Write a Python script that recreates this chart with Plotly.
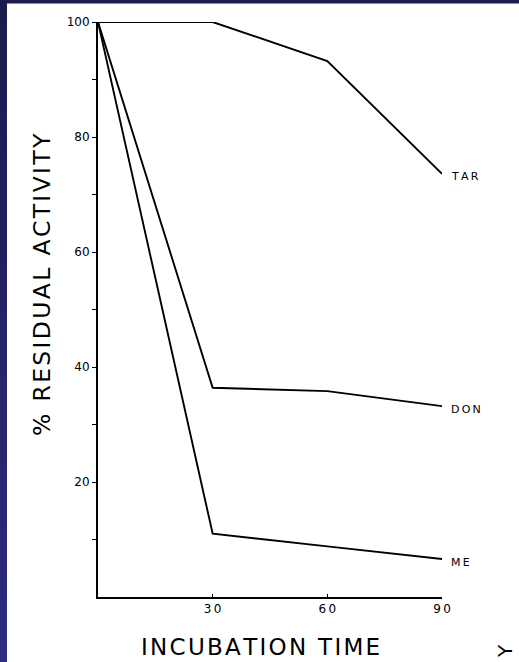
import plotly.graph_objects as go

# ---- data ----
times = [0, 30, 60, 90]
tar = [100, 100, 93.2, 73.6]
don = [100, 36.4, 35.8, 33.2]
me = [100, 11.0, 8.8, 6.6]
series_names = ["TAR", "DON", "ME"]
x_ticks = [30, 60, 90]
y_ticks = [10, 20, 30, 40, 50, 60, 70, 80, 90, 100]
y_labels = ["", "20", "", "40", "", "60", "", "80", "", "100"]

W, H = 519, 662
ML, MR, MT, MB = 98, 77, 22, 65
PW, PH = W - ML - MR, H - MT - MB

HS = "\u200a"  # hair space for letter spacing
TS = "\u2009"


def spaced(s, sep=HS):
    return sep.join(list(s))


FONT = "DejaVu Sans"

fig = go.Figure()
for name, vals in zip(series_names, [tar, don, me]):
    fig.add_trace(go.Scatter(x=times, y=vals, mode="lines", name=name,
                             line=dict(color="black", width=1.9),
                             showlegend=False, hoverinfo="skip"))
    fig.add_annotation(x=times[-1], y=vals[-1], xref="x", yref="y",
                       text=spaced(name, TS), showarrow=False,
                       xanchor="left", yanchor="middle", xshift=7, yshift=-3,
                       font=dict(family=FONT, size=11, color="black"))

fig.update_xaxes(range=[0, 90], showline=True, linecolor="black", linewidth=2,
                 showgrid=False, zeroline=False, tickvals=x_ticks,
                 ticktext=[spaced(str(v), TS) for v in x_ticks],
                 ticks="inside", ticklen=3, tickcolor="black",
                 tickfont=dict(family=FONT, size=12, color="black"))
fig.update_yaxes(range=[0, 100], showline=True, linecolor="black", linewidth=2,
                 showgrid=False, zeroline=False, tickvals=y_ticks, ticktext=y_labels,
                 ticks="outside", ticklen=4, tickcolor="black", tickwidth=1.2,
                 tickfont=dict(family=FONT, size=12, color="black"))


def px_to_paper_x(px):
    return (px - ML) / PW


def px_to_paper_y(py):
    return (H - MB - py) / PH


shapes = []
# left blue strip (vertical gradient)
n = 30
c0 = (27, 27, 78)
c1 = (44, 44, 128)
for i in range(n):
    t = i / (n - 1)
    col = tuple(int(round(c0[k] + (c1[k] - c0[k]) * t)) for k in range(3))
    ya = i * H / n
    yb = (i + 1) * H / n + 1
    shapes.append(dict(type="rect", xref="paper", yref="paper",
                       x0=px_to_paper_x(0), x1=px_to_paper_x(7),
                       y0=px_to_paper_y(ya), y1=px_to_paper_y(yb),
                       fillcolor="rgb(%d,%d,%d)" % col, line=dict(width=0)))
# top strip
shapes.append(dict(type="rect", xref="paper", yref="paper",
                   x0=px_to_paper_x(0), x1=px_to_paper_x(W),
                   y0=px_to_paper_y(-1), y1=px_to_paper_y(3.5),
                   fillcolor="rgb(27,27,78)", line=dict(width=0)))

annotations = [
    dict(text=spaced("INCUBATION TIME", HS), xref="paper", yref="paper",
         x=px_to_paper_x(260), y=px_to_paper_y(647), showarrow=False,
         xanchor="center", yanchor="middle",
         font=dict(family=FONT, size=23, color="black")),
    dict(text=spaced("% RESIDUAL ACTIVITY", HS), xref="paper", yref="paper",
         x=px_to_paper_x(42), y=px_to_paper_y(285), showarrow=False,
         textangle=-90, xanchor="center", yanchor="middle",
         font=dict(family=FONT, size=23.5, color="black")),
    dict(text="Y", xref="paper", yref="paper",
         x=px_to_paper_x(505), y=px_to_paper_y(651), showarrow=False,
         textangle=-90, xanchor="center", yanchor="middle",
         font=dict(family=FONT, size=20, color="black")),
]
for a in annotations:
    fig.add_annotation(**a)

fig.update_layout(width=W, height=H, autosize=False,
                  margin=dict(l=ML, r=MR, t=MT, b=MB, pad=0),
                  paper_bgcolor="white", plot_bgcolor="white",
                  shapes=shapes, showlegend=False)

fig.write_html("out.html", config={"displayModeBar": False},
               post_script="document.body.style.margin='0';document.body.style.overflow='hidden';")
